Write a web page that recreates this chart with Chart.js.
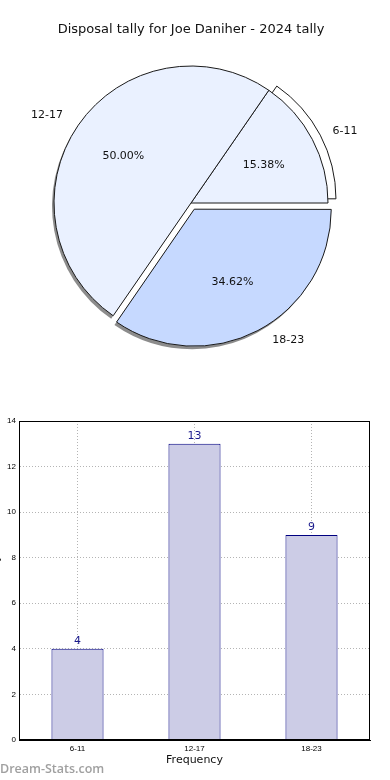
<!DOCTYPE html>
<html>
<head>
<meta charset="utf-8">
<script src="https://cdn.jsdelivr.net/npm/chart.js@4.4.0/dist/chart.umd.min.js"></script>
<style>
	html, body { margin: 0; padding: 0; background: #fff; width: 390px; height: 780px; overflow: hidden; position: relative; }
	#pie { position: absolute; left: 0; top: 0; }
	#bars { position: absolute; left: -10px; top: 400px; }
	#mark { position: absolute; left: 0; top: 760px; font: 600 12.5px "Open Sans", sans-serif; color: #a0a0a0; }
</style>
</head>
<body>
<canvas id="pie" width="390" height="380"></canvas>
<canvas id="bars" width="400" height="380"></canvas>
<div id="mark">Dream-Stats.com</div>
<script>
"use strict";

var chartTitle = "Disposal tally for Joe Daniher - 2024 tally";
var categories = ["6-11", "12-17", "18-23"];
var tallies = [4, 13, 9];
var yTicks = [0, 2, 4, 6, 8, 10, 12, 14];

var total = tallies.reduce(function(a, b) { return a + b; }, 0);

// matplotlib goes counter-clockwise from 3 o'clock, chart.js goes clockwise,
// so walk the slices backwards starting from the end of the first one
var pieOrder = [0, 2, 1];
var pieLabels = pieOrder.map(function(i) { return categories[i]; });
var pieValues = pieOrder.map(function(i) { return tallies[i]; });
var pieRotation = 90 - 360 * tallies[0] / total;

function arcGeom(arc) {
	var off = (arc.options.offset || 0) / 4;
	var mid = (arc.startAngle + arc.endAngle) / 2;
	var fix = 1 - Math.sin(Math.min(Math.PI, arc.circumference));
	return {
		x: arc.x + Math.cos(mid) * off,
		y: arc.y + Math.sin(mid) * off,
		r: arc.outerRadius + off * fix,
		s: arc.startAngle,
		e: arc.endAngle,
		mid: mid
	};
}

function wedgePath(ctx, x, y, r, s, e) {
	ctx.beginPath();
	ctx.moveTo(x, y);
	ctx.arc(x, y, r, s, e);
	ctx.closePath();
}

var pieExtras = {
	id: "pieExtras",
	afterDatasetUpdate: function(chart, args) {
		// keep the exploded slice the same size as the others
		args.meta.data.forEach(function(arc) {
			var off = (arc.options.offset || 0) / 4;
			if (off) {
				var fix = 1 - Math.sin(Math.min(Math.PI, arc.circumference));
				arc.outerRadius -= off * fix;
			}
		});
	},
	beforeDatasetsDraw: function(chart) {
		var ctx = chart.ctx;
		var meta = chart.getDatasetMeta(0);
		ctx.save();
		meta.data.forEach(function(arc, i) {
			var g = arcGeom(arc);
			if (chart.data.labels[i] === "6-11") {
				var gx = g.x + Math.cos(g.mid) * 9, gy = g.y + Math.sin(g.mid) * 9;
				wedgePath(ctx, gx, gy, g.r, g.s, g.e);
				ctx.fillStyle = "#fff";
				ctx.fill();
				ctx.strokeStyle = "#1a1a1a";
				ctx.lineWidth = 1;
				ctx.stroke();
			} else {
				wedgePath(ctx, g.x - 2, g.y + 3, g.r, g.s, g.e);
				ctx.fillStyle = "#8c8c8c";
				ctx.fill();
			}
		});
		ctx.restore();
	},
	afterDatasetsDraw: function(chart) {
		var ctx = chart.ctx;
		var meta = chart.getDatasetMeta(0);
		ctx.save();
		ctx.font = "11px 'DejaVu Sans'";
		ctx.fillStyle = "#111";
		ctx.textBaseline = "middle";
		meta.data.forEach(function(arc, i) {
			var g = arcGeom(arc);
			var c = Math.cos(g.mid), s = Math.sin(g.mid);
			var pct = (chart.data.datasets[0].data[i] / total * 100).toFixed(2) + "%";
			ctx.textAlign = "center";
			ctx.fillText(pct, g.x + c * g.r * 0.6, g.y + s * g.r * 0.6);
			ctx.textAlign = c > 0 ? "left" : "right";
			ctx.fillText(chart.data.labels[i], g.x + c * g.r * 1.1 + (c > 0 ? 8 : -4), g.y + s * g.r * 1.1 - 2);
		});
		ctx.restore();
	}
};

new Chart(document.getElementById("pie"), {
	type: "pie",
	data: {
		labels: pieLabels,
		datasets: [{
			data: pieValues,
			backgroundColor: pieLabels.map(function(l) { return l === "18-23" ? "#c6d9ff" : "#eaf1ff"; }),
			borderColor: "#1a1a1a",
			borderWidth: 1,
			offset: pieLabels.map(function(l) { return l === "18-23" ? 28 : 0; })
		}]
	},
	options: {
		responsive: false,
		animation: false,
		events: [],
		rotation: pieRotation,
		radius: 137,
		layout: { padding: { left: 0, right: 8, top: 0, bottom: 11.6 } },
		plugins: {
			legend: { display: false },
			tooltip: { enabled: false },
			title: {
				display: true,
				text: chartTitle,
				color: "#111",
				font: { family: "DejaVu Sans", size: 13, weight: "normal" },
				padding: { top: 22, bottom: 0 }
			}
		}
	},
	plugins: [pieExtras]
});

var barExtras = {
	id: "barExtras",
	afterDraw: function(chart) {
		var ctx = chart.ctx;
		var a = chart.chartArea;
		ctx.save();
		ctx.strokeStyle = "#000";
		ctx.lineWidth = 1;
		ctx.strokeRect(Math.round(a.left) + 0.5, Math.round(a.top) + 0.5, Math.round(a.right - a.left) - 1, Math.round(a.bottom - a.top) - 1);

		ctx.font = "11px 'DejaVu Sans'";
		ctx.fillStyle = "#1a1a8c";
		ctx.textAlign = "center";
		ctx.textBaseline = "bottom";
		chart.getDatasetMeta(0).data.forEach(function(bar, i) {
			ctx.fillText(String(chart.data.datasets[0].data[i]), bar.x, bar.y - 2);
		});
		ctx.restore();
	}
};

var tickFont = { family: "Liberation Sans", size: 8 };

new Chart(document.getElementById("bars"), {
	type: "bar",
	data: {
		labels: categories,
		datasets: [{
			data: tallies,
			backgroundColor: "#ccccE6",
			borderColor: "#000080",
			borderWidth: 1,
			barPercentage: 0.445,
			categoryPercentage: 1
		}]
	},
	options: {
		responsive: false,
		animation: false,
		events: [],
		layout: { padding: { left: 0, right: 20, top: 21, bottom: 0 } },
		plugins: {
			legend: { display: false },
			tooltip: { enabled: false }
		},
		scales: {
			x: {
				z: 1,
				grid: { offset: false, color: "#b4b4b4", drawTicks: false },
				border: { color: "#000", width: 1, dash: [1, 2] },
				ticks: { color: "#000", font: tickFont, padding: 4 },
				title: {
					display: true,
					text: "Frequency",
					color: "#111",
					font: { family: "DejaVu Sans", size: 11 },
					padding: { top: 0, bottom: 13 }
				},
				afterFit: function(scale) { scale.height = 40; }
			},
			y: {
				z: 1,
				min: yTicks[0],
				max: yTicks[yTicks.length - 1],
				afterBuildTicks: function(scale) {
					scale.ticks = yTicks.map(function(v) { return { value: v }; });
				},
				grid: { color: "#b4b4b4", drawTicks: false },
				border: { color: "#000", width: 1, dash: [1, 2] },
				ticks: { color: "#000", font: tickFont, padding: 3 },
				title: {
					display: true,
					text: "Games Played",
					color: "#111",
					font: { family: "DejaVu Sans", size: 11 },
					padding: 0
				},
				afterFit: function(scale) { scale.width = 29; }
			}
		}
	},
	plugins: [barExtras]
});
</script>
</body>
</html>
